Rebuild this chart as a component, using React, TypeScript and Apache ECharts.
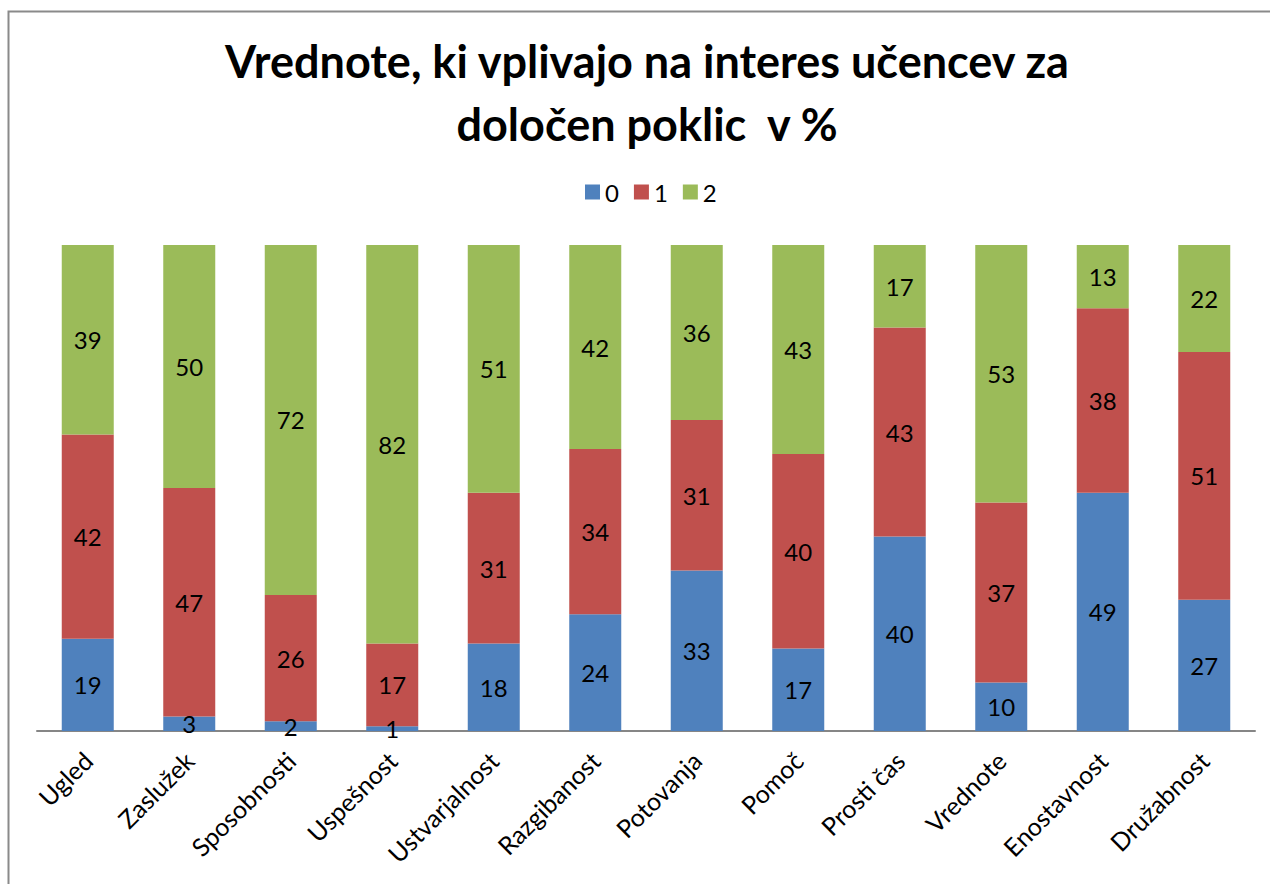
import React, { useEffect, useRef } from "react";
import * as echarts from "echarts";

const categories = [
  "Ugled", "Zaslužek", "Sposobnosti", "Uspešnost", "Ustvarjalnost", "Razgibanost",
  "Potovanja", "Pomoč", "Prosti čas", "Vrednote", "Enostavnost", "Družabnost",
];
const series0 = [19, 3, 2, 1, 18, 24, 33, 17, 40, 10, 49, 27];
const series1 = [42, 47, 26, 17, 31, 34, 31, 40, 43, 37, 38, 51];
const series2 = [39, 50, 72, 82, 51, 42, 36, 43, 17, 53, 13, 22];
const seriesNames = ["0", "1", "2"];
const colors = ["#4F81BD", "#C0504D", "#9BBB59"];
const titleText = "Vrednote, ki vplivajo na interes učencev za\ndoločen poklic  v %";

const FONT = "Lato, 'Open Sans', sans-serif";

export default function App() {
  const ref = useRef<HTMLDivElement>(null);
  useEffect(() => {
    if (!ref.current) return;
    const chart = echarts.init(ref.current, undefined, { renderer: "svg" });
    const data = [series0, series1, series2];
    chart.setOption({
      animation: false,
      backgroundColor: "#ffffff",
      textStyle: { fontFamily: FONT },
      title: {
        text: titleText,
        left: 642,
        textAlign: "center",
        top: 24,
        textStyle: {
          fontFamily: FONT,
          fontSize: 45,
          fontWeight: "bold",
          color: "#000",
          lineHeight: 63,
        },
      },
      legend: {
        data: seriesNames,
        left: 585,
        top: 180,
        padding: 0,
        icon: "rect",
        itemWidth: 15,
        itemHeight: 15,
        itemGap: 15,
        textStyle: { fontFamily: FONT, fontSize: 24, color: "#000", padding: [0, 0, 0, 0] },
      },
      graphic: [
        {
          type: "rect",
          shape: { x: 8.5, y: 11.5, width: 1300, height: 900 },
          style: { fill: "none", stroke: "#8a8a8a", lineWidth: 2 },
          silent: true,
        },
      ],
      grid: { left: 37, right: 15, top: 245, bottom: 153, containLabel: false },
      xAxis: {
        type: "category",
        data: categories,
        axisLine: { show: true, lineStyle: { color: "#868686", width: 2 } },
        axisTick: { show: false },
        axisLabel: {
          rotate: 45,
          margin: 25,
          interval: 0,
          fontFamily: FONT,
          fontSize: 25,
          color: "#000",
        },
      },
      yAxis: {
        type: "value",
        min: 0,
        max: 100,
        show: false,
        splitLine: { show: false },
      },
      series: data.map((d, i) => ({
        name: seriesNames[i],
        type: "bar",
        stack: "total",
        barWidth: 52,
        data: d,
        itemStyle: { color: colors[i] },
        label: {
          show: true,
          position: "inside",
          color: "#000",
          fontFamily: FONT,
          fontSize: 24,
        },
      })),
    });
    return () => chart.dispose();
  }, []);
  return (
    <div
      ref={ref}
      style={{ position: "absolute", left: 0, top: 0, width: 1270, height: 884 }}
    />
  );
}
